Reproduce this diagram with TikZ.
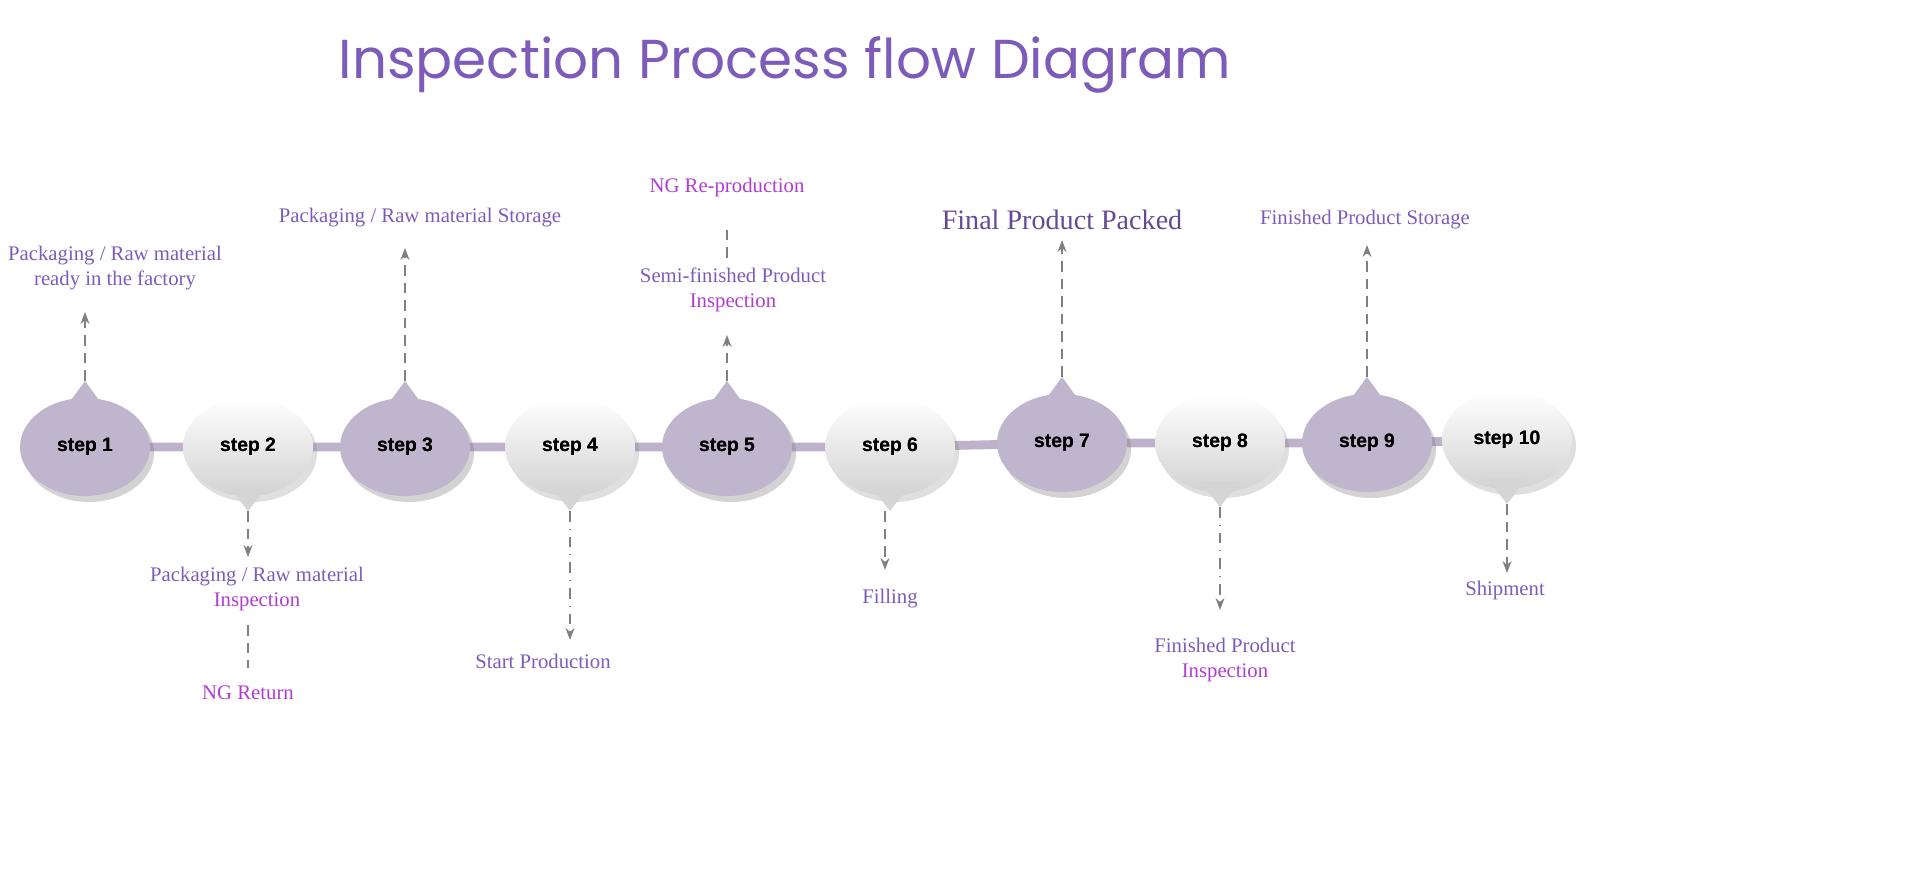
\documentclass[tikz,border=0pt]{standalone}
\usepackage{fontspec}
\setmainfont{Liberation Serif}
\newfontfamily\titlefont{Poppins}
\newfontfamily\stepfont{Liberation Sans}
\usetikzlibrary{shapes.geometric,shadows,arrows.meta,calc}
\definecolor{lblpurple}{HTML}{7C5CB8}
\definecolor{lblmag}{HTML}{B03CD0}
\definecolor{ballpurple}{HTML}{BFB5CD}
\definecolor{linepurple}{HTML}{BDB1CB}
\tikzset{
  ball/.style={ellipse,minimum width=1.3cm,minimum height=0.98cm,inner sep=0pt,
    font=\stepfont\bfseries\fontsize{5.5}{6}\selectfont},
  ballodd/.style={ball,fill=ballpurple,drop shadow={opacity=0.35,shadow xshift=0.4mm,shadow yshift=-0.6mm}},
  balleven/.style={ball,top color=white,bottom color=gray!35,drop shadow={opacity=0.25,shadow xshift=0.4mm,shadow yshift=-0.6mm}},
  lbl/.style={text=lblpurple,align=center,font=\fontsize{5.9}{7.2}\selectfont},
  lead/.style={densely dashed,gray,-{Stealth[length=1.2mm]},line width=0.3pt},
}
\begin{document}
\begin{tikzpicture}
\useasboundingbox (0,0) rectangle (19.2,8.77);
% title
\node[text=lblpurple,font=\titlefont\fontsize{15.6}{18}\selectfont] (title) at (7.85,8.12) {Inspection Process flow Diagram};
% steps
\foreach \i/\x/\y in {1/0.85/4.30,2/2.48/4.30,3/4.05/4.30,4/5.70/4.30,5/7.27/4.30,
                      6/8.90/4.30,7/10.62/4.34,8/12.20/4.34,9/13.67/4.34,10/15.07/4.37}{
  \coordinate (c\i) at (\x,\y);
}
\draw[linepurple,line width=2.5pt] (c1) -- (c2) -- (c3) -- (c4) -- (c5) -- (c6) -- (c7) -- (c8) -- (c9) -- (c10);
\foreach \i in {1,3,5,7,9}{
  \node[ballodd] (s\i) at (c\i) {step \i};
  \coordinate (t\i) at ($(c\i)+(0,0.66)$);
  \fill[ballpurple] ($(c\i)+(-0.22,0.36)$) -- (t\i) -- ($(c\i)+(0.22,0.36)$) -- cycle;
  \node[font=\stepfont\bfseries\fontsize{5.5}{6}\selectfont] at (c\i) {step \i};
}
\foreach \i in {2,4,6,8,10}{
  \node[balleven] (s\i) at (c\i) {step \i};
  \coordinate (t\i) at ($(c\i)+(0,-0.64)$);
  \fill[gray!33] ($(c\i)+(-0.2,-0.38)$) -- (t\i) -- ($(c\i)+(0.2,-0.38)$) -- cycle;
  \node[font=\stepfont\bfseries\fontsize{5.5}{6}\selectfont] at (c\i) {step \i};
}
% labels
\node[lbl] (l1) at (1.15,6.09) {Packaging / Raw material\\ready in the factory};
\node[lbl] (l2) at (2.57,2.88) {Packaging / Raw material\\\textcolor{lblmag}{Inspection}};
\node[lbl,text=lblmag] (n2) at (2.48,1.84) {NG Return};
\node[lbl] (l3) at (4.20,6.59) {Packaging / Raw material Storage};
\node[lbl] (l4) at (5.43,2.16) {Start Production};
\node[lbl] (l5) at (7.33,5.87) {Semi-finished Product\\\textcolor{lblmag}{Inspection}};
\node[lbl,text=lblmag] (n5) at (7.27,6.89) {NG Re-production};
\node[lbl] (l6) at (8.90,2.78) {Filling};
\node[lbl,text=lblpurple!80!black,font=\fontsize{8}{10}\selectfont] (l7) at (10.62,6.57) {Final Product Packed};
\node[lbl] (l8) at (12.25,2.17) {Finished Product\\\textcolor{lblmag}{Inspection}};
\node[lbl] (l9) at (13.65,6.57) {Finished Product Storage};
\node[lbl] (l10) at (15.05,2.86) {Shipment};
% leaders
\draw[lead] (t1) -- (t1 |- 0,5.65);
\draw[lead] (t2) -- (t2 |- 0,3.20);
\draw[densely dashed,gray,line width=0.3pt] (2.48,2.52) -- (2.48,2.09);
\draw[lead] (t3) -- (t3 |- 0,6.29);
\draw[lead,dash dot] (t4) -- (t4 |- 0,2.37);
\draw[lead] (t5) -- (t5 |- 0,5.42);
\draw[densely dashed,gray,line width=0.3pt] (7.27,6.19) -- (7.27,6.47);
\draw[lead] (8.85,3.66) -- (8.85,3.07);
\draw[lead] (t7) -- (t7 |- 0,6.37);
\draw[lead,dash dot] (t8) -- (t8 |- 0,2.67);
\draw[lead] (t9) -- (t9 |- 0,6.32);
\draw[lead] (t10) -- (t10 |- 0,3.04);
\end{tikzpicture}
\end{document}
